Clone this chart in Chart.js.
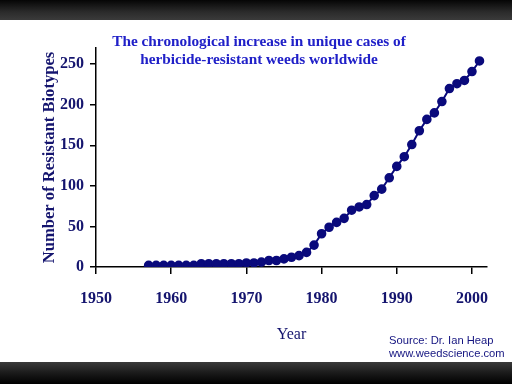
<!DOCTYPE html>
<html>
<head>
<meta charset="utf-8">
<script src="https://cdn.jsdelivr.net/npm/chart.js@4.4.0/dist/chart.umd.min.js"></script>
<style>
html,body{margin:0;padding:0;background:#000;}
#wrap{position:relative;width:512px;height:384px;overflow:hidden;background:#000;}
#topband{position:absolute;left:0;top:0;width:512px;height:20px;background:linear-gradient(#050505,#2b2b2b 60%,#3a3a3a);}
#botband{position:absolute;left:0;top:362px;width:512px;height:22px;background:linear-gradient(#3a3a3a,#1a1a1a 50%,#000);}
#panel{position:absolute;left:0;top:20px;width:512px;height:342px;background:#fff;}
#title{position:absolute;left:0;top:32px;width:518px;text-align:center;font:bold 15.3px "Liberation Serif","DejaVu Serif",serif;color:#2020c8;line-height:18px;}
#source{position:absolute;left:389px;top:334px;font:11.2px "Liberation Sans",Arial,sans-serif;color:#141480;line-height:13px;}
canvas{position:absolute;left:0;top:0;}
</style>
</head>
<body>
<div id="wrap">
<div id="topband"></div>
<div id="panel"></div>
<div id="botband"></div>
<canvas id="weedChart" width="512" height="384"></canvas>
<div id="title">The chronological increase in unique cases of<br>herbicide-resistant weeds worldwide</div>
<div id="source">Source: Dr. Ian Heap<br>www.weedscience.com</div>
</div>
<script>
// Resistant biotypes per year
var years = [1957,1958,1959,1960,1961,1962,1963,1964,1965,1966,1967,1968,1969,1970,1971,1972,1973,1974,1975,1976,1977,1978,1979,1980,1981,1982,1983,1984,1985,1986,1987,1988,1989,1990,1991,1992,1993,1994,1995,1996,1997,1998,1999,2000,2001];
var biotypes = [2,2,2,2,2,2,2,4,4,4,4,4,4,5,5,6,8,8,10,12,14,18,27,41,49,55,60,70,74,77,88,96,110,124,136,151,168,182,190,204,220,226,230,241,254];
var xTicks = [1950,1960,1970,1980,1990,2000];
var yTicks = [0,50,100,150,200,250];

var navy = '#14146e';
var points = years.map(function(y,i){ return {x:y, y:biotypes[i]}; });

new Chart(document.getElementById("weedChart"),{
type:'line',
data:{
datasets:[{
data:points,
borderColor:'#0a0a7c',
backgroundColor:'#0a0a7c',
borderWidth:2,
pointRadius:3.8,
pointHoverRadius:3.8,
tension:0,
fill:false
}]
},
options:{
responsive:false,
animation:false,
layout:{padding:{top:48,right:25,left:0,bottom:0}},
plugins:{legend:{display:false},tooltip:{enabled:false}},
scales:{
x:{
type:'linear',min:1950,max:2002,
afterBuildTicks:function(s){ s.ticks = xTicks.map(function(v){return {value:v};}); },
afterFit:function(s){ s.height = 117; },
grid:{drawOnChartArea:false,drawTicks:true,tickLength:7,color:'#000',lineWidth:1.5},
border:{display:true,color:'#000',width:1.5},
ticks:{color:navy,padding:15,maxRotation:0,font:{family:'"Liberation Serif", serif',size:16,weight:'bold'},callback:function(v){return String(v);}},
title:{display:true,text:'Year',color:navy,padding:{top:0,bottom:40},font:{family:'"Liberation Serif", serif',size:16}}
},
y:{
min:0,max:270,
afterBuildTicks:function(s){ s.ticks = yTicks.map(function(v){return {value:v};}); },
afterFit:function(s){ s.width = 96; },
grid:{drawOnChartArea:false,drawTicks:true,tickLength:6,color:'#000',lineWidth:1.5},
border:{display:true,color:'#000',width:1.5},
ticks:{color:navy,padding:6,font:{family:'"Liberation Serif", serif',size:16,weight:'bold'}},
title:{display:true,text:'Number of Resistant Biotypes',color:navy,padding:{top:40,bottom:0},font:{family:'"Liberation Serif", serif',size:16.6,weight:'bold'}}
}
}
}
});
</script>
</body>
</html>
